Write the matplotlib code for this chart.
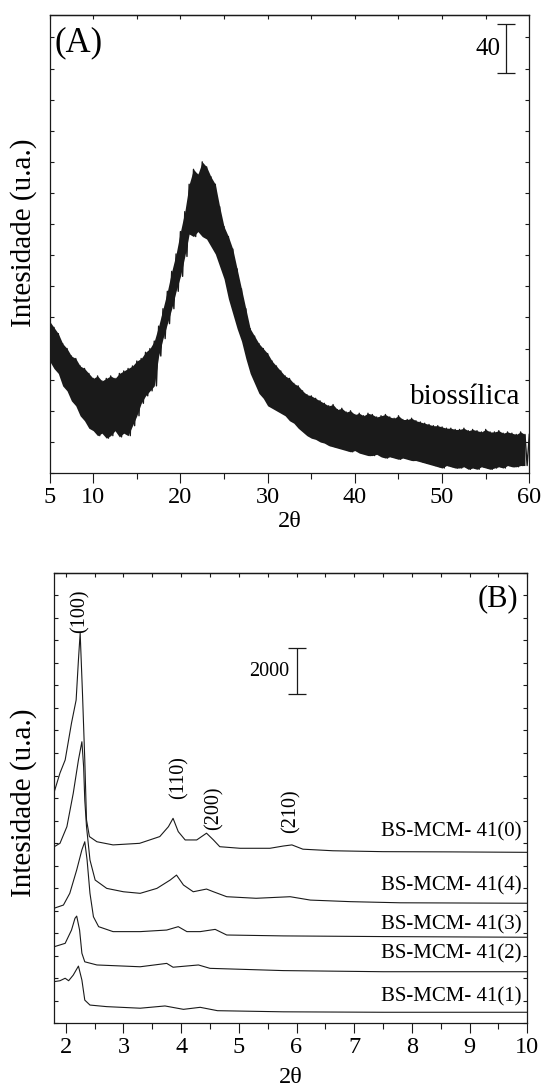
import numpy as np
import matplotlib.pyplot as plt
from matplotlib.ticker import FixedLocator, MultipleLocator

plt.rcParams['font.family'] = ['Liberation Serif', 'DejaVu Serif']

# ---- panel A: biossilica, 2theta 5-60, step 0.25
two_theta_a = 5 + 0.25 * np.arange(221)
intensity_a = [
    122, 90, 117, 84, 112, 80, 104, 70, 100, 66, 94, 58, 92, 54, 86, 46,
    84, 42, 80, 36, 76, 34, 78, 30, 74, 32, 76, 28, 78, 30, 76, 34,
    80, 29, 82, 32, 84, 30, 86, 38, 90, 46, 92, 56, 97, 62, 100, 66,
    106, 70, 118, 94, 132, 108, 146, 120, 162, 132, 176, 146, 194, 158, 210, 174,
    232, 192, 244, 190, 240, 194, 250, 190, 246, 188, 238, 182, 232, 176, 214, 166,
    198, 156, 190, 140, 180, 128, 164, 116, 148, 106, 132, 92, 116, 80, 110, 72,
    104, 64, 100, 60, 96, 54, 90, 52, 86, 50, 82, 48, 78, 46, 76, 42,
    72, 40, 70, 36, 66, 33, 63, 30, 62, 28, 60, 27, 58, 25, 56, 24,
    54, 22, 55, 21, 51, 20, 52, 19, 49, 18, 50, 17, 47, 18, 48, 16,
    46, 15, 48, 14, 47, 14, 45, 15, 46, 13, 47, 12, 45, 13, 44, 12,
    46, 11, 43, 12, 43, 11, 44, 10, 42, 10, 41, 9, 40, 8, 39, 7,
    38, 6, 38, 5, 37, 4, 36, 6, 36, 5, 35, 4, 35, 4, 36, 5,
    34, 3, 35, 4, 34, 3, 33, 5, 35, 4, 33, 3, 33, 4, 34, 5,
    32, 4, 33, 6, 32, 5, 31, 5, 33, 6, 31, 6, 31,
]
scale_a = 40

# ---- panel B: BS-MCM-41 samples
bs0_x = [1.80, 1.90, 1.99, 2.10, 2.18, 2.22, 2.25, 2.29, 2.33, 2.36, 2.41, 2.54, 2.82,
         3.28, 3.63, 3.78, 3.86, 3.95, 4.07, 4.27, 4.44, 4.56, 4.67, 5.02, 5.54, 5.77,
         5.92, 6.11, 6.63, 7.50, 8.66, 10.0]
bs0_y = [10270, 11110, 11690, 13330, 14350, 16130, 17330, 14660, 11690, 9030, 8290, 8060, 7920,
         7990, 8290, 8730, 9100, 8510, 8140, 8140, 8440, 8140, 7840, 7770, 7770, 7870,
         7920, 7730, 7660, 7620, 7610, 7590]

bs4_x = [1.80, 1.90, 2.02, 2.13, 2.22, 2.28, 2.31, 2.33, 2.36, 2.42, 2.51, 2.71, 3.00,
         3.29, 3.58, 3.81, 3.92, 4.04, 4.21, 4.44, 4.56, 4.79, 5.30, 5.89, 6.24, 6.94,
         7.80, 10.0]
bs4_y = [7840, 7990, 8730, 10210, 11690, 12500, 11390, 9910, 8730, 7250, 6360, 5990, 5840,
         5770, 5990, 6360, 6580, 6140, 5840, 5960, 5840, 5620, 5550, 5620, 5470, 5400,
         5350, 5330]

bs3_x = [1.80, 1.96, 2.07, 2.19, 2.28, 2.33, 2.37, 2.42, 2.48, 2.57, 2.82, 3.29, 3.75,
         3.95, 4.10, 4.33, 4.59, 4.79, 5.77, 7.50, 10.0]
bs3_y = [5110, 5250, 5770, 6810, 7700, 8060, 7250, 5770, 4730, 4290, 4070, 4070, 4140,
         4290, 4070, 4070, 4170, 3920, 3880, 3850, 3820]

bs2_x = [1.80, 1.99, 2.10, 2.16, 2.19, 2.24, 2.28, 2.33, 2.54, 3.29, 3.75, 3.86, 4.30,
         4.50, 5.77, 7.50, 10.0]
bs2_y = [3400, 3550, 4140, 4660, 4760, 4140, 3110, 2730, 2590, 2510, 2660, 2490, 2590,
         2440, 2340, 2290, 2290]

bs1_x = [1.80, 1.90, 1.99, 2.05, 2.13, 2.22, 2.28, 2.33, 2.42, 2.71, 3.29, 3.72, 4.04,
         4.33, 4.63, 5.77, 7.50, 10.0]
bs1_y = [1850, 1890, 2000, 1890, 2140, 2540, 1920, 1030, 810, 740, 670, 770, 620,
         710, 560, 510, 490, 490]

sample_labels = ['BS-MCM- 41(0)', 'BS-MCM- 41(4)', 'BS-MCM- 41(3)', 'BS-MCM- 41(2)', 'BS-MCM- 41(1)']
sample_label_y = [8510, 6100, 4360, 3080, 1190]
peak_labels = ['(100)', '(110)', '(200)', '(210)']
peak_x = [2.25, 3.96, 4.57, 5.90]
peak_label_y = [18300, 10890, 9540, 9430]
scale_b = 2000

ink = '#1a1a1a'

fig = plt.figure(figsize=(5.42, 10.91), dpi=100)
axA = fig.add_axes([0.0915, 0.56645, 0.8851, 0.4198])
axB = fig.add_axes([0.1000, 0.06205, 0.8729, 0.41293])


def style(ax, major, minor, top_step, ystep):
    ax.xaxis.set_major_locator(FixedLocator(major))
    ax.xaxis.set_minor_locator(FixedLocator(minor))
    ax.yaxis.set_major_locator(MultipleLocator(ystep))
    ax.tick_params(axis='x', which='both', direction='out', bottom=True, top=False,
                   labelsize=17.5, width=0.8, color=ink, pad=3)
    ax.tick_params(axis='x', which='major', length=7)
    ax.tick_params(axis='x', which='minor', length=4)
    ax.tick_params(axis='y', which='major', direction='in', left=True, right=True,
                   labelleft=False, length=3, width=0.8, color=ink)
    sec = ax.secondary_xaxis('top')
    sec.xaxis.set_major_locator(MultipleLocator(top_step))
    sec.tick_params(axis='x', direction='in', length=3, width=0.8, labeltop=False, color=ink)
    sec.spines['top'].set_linewidth(0.9)
    for s in ax.spines.values():
        s.set_linewidth(0.9)
        s.set_color(ink)


# ---- A: noisy band = fill between the up and down spikes, plus the trace itself
tops = intensity_a[0::2]
bots = intensity_a[1::2]
axA.fill_between(two_theta_a[0::2][:len(bots)], tops[:len(bots)], bots,
                 color=ink, lw=0)
axA.plot(two_theta_a, intensity_a, color=ink, lw=1.0)
axA.set_xlim(5, 60)
axA.set_ylim(0, 368)
style(axA, [5, 10, 20, 30, 40, 50, 60], [15, 25, 35, 45, 55], 5, 25)
axA.set_xlabel('2θ', fontsize=17.5, va='center')
axA.xaxis.set_label_coords(0.5, -0.105)
axA.set_ylabel('Intesidade (u.a.)', fontsize=21, va='center')
axA.yaxis.set_label_coords(-0.0544, 0.524)
axA.text(5.6, 346, '(A)', fontsize=25, ha='left', va='center')
axA.text(59.0, 55.7, 'biossílica', fontsize=21, ha='right', va='baseline')
axA.errorbar([57.38], [341], yerr=[scale_a / 2], color=ink, lw=0.9, capsize=6.8, capthick=0.9)
axA.text(56.7, 341, str(scale_a), fontsize=18, ha='right', va='center')

# ---- B
for xs, ys in [(bs0_x, bs0_y), (bs4_x, bs4_y), (bs3_x, bs3_y), (bs2_x, bs2_y), (bs1_x, bs1_y)]:
    axB.plot(xs, ys, color=ink, lw=0.8)
axB.set_xlim(1.8, 10)
axB.set_ylim(0, 20000)
style(axB, list(range(2, 11)), [2.5, 3.5, 4.5, 5.5, 6.5, 7.5, 8.5, 9.5], 0.5, 1000)
axB.set_xlabel('2θ', fontsize=17.5, va='center')
axB.xaxis.set_label_coords(0.5, -0.121)
axB.set_ylabel('Intesidade (u.a.)', fontsize=21, va='center')
axB.yaxis.set_label_coords(-0.0649, 0.489)
axB.text(9.85, 18840, '(B)', fontsize=22, ha='right', va='center')
for lab, ly in zip(sample_labels, sample_label_y):
    axB.text(9.9, ly, lab, fontsize=15, ha='right', va='center')
for lab, px, py in zip(peak_labels, peak_x, peak_label_y):
    axB.text(px, py, lab, fontsize=14.5, rotation=90, ha='center', va='center')
axB.errorbar([6.0], [15640], yerr=[scale_b / 2], color=ink, lw=0.9, capsize=6.5, capthick=0.9)
axB.text(5.87, 15640, str(scale_b), fontsize=14.5, ha='right', va='center')

fig.savefig('out.png', dpi=100)
